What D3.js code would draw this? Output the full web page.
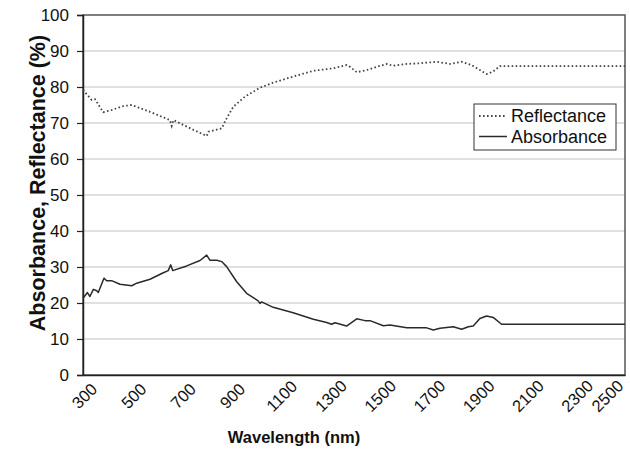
<!DOCTYPE html>
<html>
<head>
<meta charset="utf-8">
<script src="https://cdn.jsdelivr.net/npm/d3@7/dist/d3.min.js"></script>
<style>
  html, body { margin: 0; padding: 0; background: #fff; }
  svg { display: block; font-family: "Liberation Sans", Arial, sans-serif; }
</style>
</head>
<body>
<svg id="chart" width="630" height="449"></svg>
<script>
// ---- data ----
const reflWavelength = [300, 335, 349, 382, 416, 464, 498, 572, 653, 660, 667, 748, 802, 809, 863, 883, 910, 957, 1018, 1072, 1153, 1235, 1316, 1370, 1384, 1411, 1451, 1492, 1532, 1559, 1614, 1668, 1735, 1789, 1837, 1877, 1911, 1938, 1965, 1992, 2500];
const reflectance    = [79.2, 76.4, 76.6, 73.0, 73.6, 74.7, 75.0, 73.1, 70.8, 69.2, 70.8, 68.1, 66.4, 67.6, 68.5, 71.3, 74.5, 77.3, 79.8, 81.2, 82.9, 84.5, 85.2, 86.1, 85.6, 84.1, 84.7, 85.6, 86.4, 85.9, 86.4, 86.6, 87.0, 86.4, 87.0, 86.1, 84.7, 83.6, 84.3, 85.8, 85.8];

const absWavelength = [300, 318, 328, 342, 356, 362, 385, 396, 416, 450, 498, 518, 572, 626, 646, 656, 664, 721, 775, 802, 815, 843, 863, 883, 924, 964, 1011, 1018, 1025, 1072, 1153, 1235, 1289, 1309, 1323, 1370, 1411, 1445, 1465, 1519, 1546, 1614, 1695, 1722, 1749, 1803, 1837, 1864, 1884, 1911, 1938, 1965, 1999, 2500];
const absorbance    = [21.3, 22.9, 21.8, 23.8, 23.4, 22.9, 26.9, 26.2, 26.2, 25.2, 24.8, 25.5, 26.6, 28.4, 29.0, 30.6, 29.0, 30.3, 31.8, 33.3, 31.9, 31.9, 31.5, 30.1, 25.9, 22.7, 20.6, 19.9, 20.3, 18.8, 17.3, 15.5, 14.6, 14.1, 14.5, 13.6, 15.6, 15.1, 15.1, 13.7, 13.9, 13.1, 13.1, 12.5, 13.0, 13.4, 12.7, 13.4, 13.6, 15.7, 16.4, 16.0, 14.1, 14.1];

const xTicks = [300, 500, 700, 900, 1100, 1300, 1500, 1700, 1900, 2100, 2300, 2500];
const yTicks = [0, 10, 20, 30, 40, 50, 60, 70, 80, 90, 100];
const seriesNames = ["Reflectance", "Absorbance"];

// ---- layout ----
const W = 630, H = 449;
const m = { left: 83, right: 5, top: 15, bottom: 74 };
const iw = W - m.left - m.right, ih = H - m.top - m.bottom;

const svg = d3.select("#chart");
const g = svg.append("g").attr("transform", `translate(${m.left},${m.top})`);

const x = d3.scaleLinear().domain([300, 2500]).range([0, iw]);
const y = d3.scaleLinear().domain([0, 100]).range([ih, 0]);

// gridlines
g.append("g")
  .selectAll("line")
  .data(yTicks.filter(t => t > 0 && t < 100))
  .join("line")
  .attr("x1", 0).attr("x2", iw)
  .attr("y1", d => y(d)).attr("y2", d => y(d))
  .attr("stroke", "#d6d6d6").attr("stroke-width", 1.5);

// frame (top, right)
g.append("rect")
  .attr("x", 0).attr("y", 0).attr("width", iw).attr("height", ih)
  .attr("fill", "none").attr("stroke", "#555").attr("stroke-width", 1.5);

// y axis
const yAxis = g.append("g")
  .call(d3.axisLeft(y).tickValues(yTicks).tickSize(6).tickPadding(8).tickFormat(d3.format("d")));
yAxis.select(".domain").attr("stroke", "#222").attr("stroke-width", 1.5);
yAxis.selectAll(".tick line").attr("stroke", "#222").attr("stroke-width", 1.2);
yAxis.selectAll(".tick text")
  .attr("font-size", 17).attr("fill", "#111")
  .attr("font-family", "Liberation Sans, Arial, sans-serif");

// x axis
const xAxis = g.append("g").attr("transform", `translate(0,${ih})`)
  .call(d3.axisBottom(x).tickValues(xTicks).tickSize(0).tickFormat(d3.format("d")));
xAxis.select(".domain").attr("stroke", "#222").attr("stroke-width", 1.5);
xAxis.selectAll(".tick text")
  .attr("font-size", 16.5).attr("fill", "#111")
  .attr("font-family", "Liberation Sans, Arial, sans-serif")
  .attr("text-anchor", "middle")
  .attr("y", 0).attr("dy", "0.35em")
  .attr("transform", (d, i) => `translate(${d === 2500 ? -18 : 1},21) rotate(-45)`);

// lines
const line = d3.line().x(d => x(d[0])).y(d => y(d[1]));
const reflData = reflWavelength.map((w, i) => [w, reflectance[i]]);
const absData = absWavelength.map((w, i) => [w, absorbance[i]]);

g.append("path").datum(reflData)
  .attr("d", line).attr("fill", "none")
  .attr("stroke", "#444").attr("stroke-width", 1.8)
  .attr("stroke-dasharray", "1.6 2.4");

g.append("path").datum(absData)
  .attr("d", line).attr("fill", "none")
  .attr("stroke", "#2a2a2a").attr("stroke-width", 1.5)
  .attr("stroke-linejoin", "round");

// legend
const lg = svg.append("g").attr("transform", "translate(474,104)");
lg.append("rect").attr("width", 142).attr("height", 46)
  .attr("fill", "#fff").attr("stroke", "#333").attr("stroke-width", 1);
const styles = [{ dash: "1.6 2.4", w: 1.8, c: "#444" }, { dash: null, w: 1.5, c: "#2a2a2a" }];
seriesNames.forEach((name, i) => {
  const yy = 12 + i * 20.5;
  lg.append("line").attr("x1", 5).attr("x2", 33).attr("y1", yy).attr("y2", yy)
    .attr("stroke", styles[i].c).attr("stroke-width", styles[i].w)
    .attr("stroke-dasharray", styles[i].dash);
  lg.append("text").attr("x", 37).attr("y", yy).attr("dy", "0.35em")
    .attr("font-size", 18).attr("fill", "#111").text(name);
});

// axis titles
svg.append("text")
  .attr("x", 294).attr("y", 443)
  .attr("text-anchor", "middle")
  .attr("font-size", 16.5).attr("font-weight", "bold").attr("fill", "#111")
  .text("Wavelength (nm)");

svg.append("text")
  .attr("transform", "translate(45,183) rotate(-90)")
  .attr("text-anchor", "middle")
  .attr("font-size", 21.5).attr("font-weight", "bold").attr("fill", "#111")
  .text("Absorbance, Reflectance (%)");
</script>
</body>
</html>
